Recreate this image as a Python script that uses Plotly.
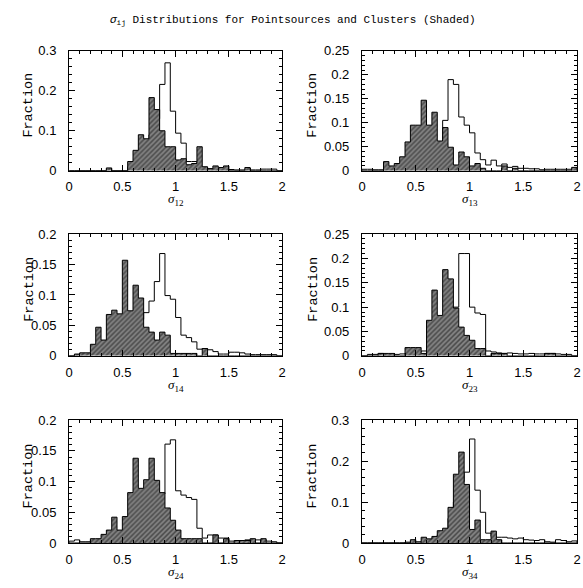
import plotly.graph_objects as go

W, H = 583, 588
edges = [round(i * 0.05, 2) for i in range(41)]

# ---- data: fraction per 0.05 bin (40 bins from 0 to 2) ----
# sigma_12
s12_pt = [0, 0, 0, 0, 0, 0, 0, 0.003, 0, 0, 0,
          0.01, 0.02, 0.03, 0.05, 0.09, 0.13, 0.216, 0.27, 0.149, 0.094,
          0.069, 0.023, 0.023, 0.01, 0.008, 0.005, 0.005, 0.004, 0.004, 0.003,
          0.002, 0.002, 0.003, 0.002, 0.002, 0.004, 0.004, 0.004, 0]
s12_cl = [0, 0, 0, 0, 0, 0, 0, 0.007, 0, 0, 0,
          0.023, 0.051, 0.09, 0.08, 0.183, 0.153, 0.1, 0.06, 0.06, 0.027,
          0.03, 0.015, 0.018, 0.06, 0.01, 0.005, 0.012, 0.008, 0.012, 0,
          0, 0, 0.008, 0, 0, 0, 0, 0, 0]
# sigma_13
s13_pt = [0.003, 0.003, 0.002, 0.002, 0.004, 0.005, 0.006, 0.01, 0.015, 0.02,
          0.025, 0.03, 0.04, 0.045, 0.06, 0.105, 0.19, 0.18, 0.112, 0.095,
          0.079, 0.037, 0.023, 0.012, 0.022, 0.01, 0.014, 0.007, 0.009, 0.005,
          0.005, 0.004, 0.004, 0.002, 0.003, 0.003, 0.003, 0.003, 0.003, 0.002]
s13_cl = [0, 0, 0, 0, 0.019, 0.01, 0.015, 0.029, 0.06, 0.095,
          0.095, 0.147, 0.095, 0.122, 0.062, 0.09, 0.049, 0.012, 0.039, 0.029,
          0.01, 0.015, 0.005, 0, 0, 0, 0.01, 0, 0.005, 0,
          0, 0, 0, 0, 0, 0, 0, 0, 0, 0.007]
# sigma_14
s14_pt = [0, 0.002, 0.002, 0.003, 0.005, 0.008, 0.01, 0.015, 0.02, 0.025,
          0.03, 0.04, 0.05, 0.06, 0.071, 0.09, 0.122, 0.168, 0.099, 0.093,
          0.063, 0.034, 0.03, 0.023, 0.011, 0.012, 0.01, 0.007, 0.003, 0.003,
          0.006, 0.006, 0.005, 0.003, 0.002, 0.002, 0.002, 0.002, 0.002, 0]
s14_cl = [0, 0.003, 0.005, 0.005, 0.019, 0.047, 0.026, 0.068, 0.075, 0.069,
          0.157, 0.074, 0.116, 0.095, 0.047, 0.039, 0.026, 0.039, 0.034, 0.004,
          0.004, 0.004, 0.004, 0.004, 0, 0.012, 0, 0, 0, 0,
          0, 0, 0, 0, 0, 0, 0, 0, 0, 0]
# sigma_23
s23_pt = [0, 0.003, 0.003, 0.005, 0.002, 0.002, 0.003, 0.004, 0.005, 0.006,
          0.008, 0.01, 0.015, 0.02, 0.03, 0.05, 0.07, 0.1, 0.21, 0.21,
          0.1, 0.088, 0.085, 0.01, 0.008, 0.006, 0.005, 0.006, 0.005, 0.004,
          0.004, 0.005, 0.004, 0.004, 0.005, 0.005, 0.004, 0.003, 0.003, 0]
s23_cl = [0, 0, 0, 0.005, 0.005, 0.005, 0, 0, 0.017, 0.017,
          0.017, 0.005, 0.073, 0.135, 0.083, 0.177, 0.158, 0.098, 0.059, 0.042,
          0.032, 0.015, 0.015, 0, 0.005, 0.005, 0.005, 0, 0, 0,
          0, 0, 0, 0, 0.005, 0.005, 0, 0, 0, 0]
# sigma_24
s24_pt = [0.003, 0.005, 0.002, 0.002, 0.004, 0.005, 0.006, 0.01, 0.012, 0.015,
          0.02, 0.03, 0.04, 0.05, 0.06, 0.07, 0.075, 0.08, 0.161, 0.168,
          0.085, 0.078, 0.074, 0.071, 0.024, 0.008, 0.013, 0.013, 0.008, 0.008,
          0.003, 0.003, 0.003, 0.005, 0.004, 0.005, 0.005, 0.003, 0.002, 0]
s24_cl = [0, 0, 0, 0, 0.007, 0.007, 0.014, 0.021, 0.042, 0.021,
          0.043, 0.082, 0.138, 0.089, 0.103, 0.138, 0.102, 0.082, 0.057, 0.037,
          0.021, 0.007, 0.007, 0.007, 0.007, 0, 0, 0.013, 0, 0.007,
          0, 0.004, 0.004, 0.004, 0.007, 0, 0.007, 0, 0, 0]
# sigma_34
s34_pt = [0, 0, 0, 0, 0, 0, 0, 0, 0.002, 0.003,
          0.003, 0.005, 0.006, 0.01, 0.02, 0.03, 0.06, 0.1, 0.15, 0.173,
          0.254, 0.129, 0.075, 0.024, 0.016, 0.014, 0.014, 0.012, 0.01, 0.012,
          0.008, 0.007, 0.006, 0.008, 0.003, 0.002, 0.008, 0.006, 0.003, 0.005]
s34_cl = [0, 0, 0, 0, 0, 0, 0, 0, 0, 0.008,
          0, 0.014, 0.01, 0.016, 0.03, 0.036, 0.087, 0.168, 0.222, 0.143,
          0.033, 0.056, 0.008, 0.008, 0.029, 0.008, 0, 0, 0, 0,
          0, 0, 0, 0, 0, 0, 0, 0, 0, 0]

panels = [
    ("12", s12_pt, s12_cl, 0.3, 0.1, 0.02),
    ("13", s13_pt, s13_cl, 0.25, 0.05, 0.01),
    ("14", s14_pt, s14_cl, 0.2, 0.05, 0.01),
    ("23", s23_pt, s23_cl, 0.25, 0.05, 0.01),
    ("24", s24_pt, s24_cl, 0.2, 0.05, 0.01),
    ("34", s34_pt, s34_cl, 0.3, 0.1, 0.02),
]

# pixel boxes of plot areas (left, right, top, bottom)
cols = [(66, 282), (363, 581)]
rows = [(45, 168), (233, 358), (424, 550)]
ylab_x = [25, 313]

fig = go.Figure()
annotations = []
mono = "Liberation Mono"
sans = "Liberation Sans"

def step(vals):
    xs = [edges[0]] + edges + [edges[-1]]
    ys = [0] + list(vals) + [vals[-1], 0]
    return xs, ys

for k, (lab, pt, cl, ymax, dt, mdt) in enumerate(panels):
    r, c = divmod(k, 2)
    l, rr = cols[c]
    t, b = rows[r]
    xa = "x" if k == 0 else f"x{k+1}"
    ya = "y" if k == 0 else f"y{k+1}"
    xs, ys = step(pt)
    fig.add_trace(go.Scatter(
        x=xs, y=ys, mode="lines", line=dict(shape="hv", color="black", width=1),
        xaxis=xa, yaxis=ya, showlegend=False, hoverinfo="skip"))
    xs, ys = step(cl)
    fig.add_trace(go.Scatter(
        x=xs, y=ys, mode="lines", line=dict(shape="hv", color="black", width=1),
        fill="tozeroy", fillcolor="#7a7a7a",
        fillpattern=dict(shape="/", fgcolor="#141414", bgcolor="#828282",
                         size=3.5, solidity=0.45),
        xaxis=xa, yaxis=ya, showlegend=False, hoverinfo="skip"))
    axcommon = dict(showline=True, linecolor="black", linewidth=1.2, mirror="ticks",
                    ticks="inside", ticklen=6, tickcolor="black", tickwidth=1,
                    showgrid=False, zeroline=False,
                    tickfont=dict(family=sans, size=13, color="black"))
    xname = "xaxis" if k == 0 else f"xaxis{k+1}"
    yname = "yaxis" if k == 0 else f"yaxis{k+1}"
    fig.layout[xname] = dict(domain=[l / W, rr / W], range=[0, 2], dtick=0.5,
                             anchor=ya, ticklabelstandoff=4,
                             minor=dict(dtick=0.1, ticks="inside", ticklen=3,
                                        tickcolor="black", showgrid=False),
                             **axcommon)
    fig.layout[yname] = dict(domain=[1 - b / H, 1 - t / H], range=[0, ymax], dtick=dt,
                             anchor=xa, ticklabelstandoff=9,
                             minor=dict(dtick=mdt, ticks="inside", ticklen=3,
                                        tickcolor="black", showgrid=False),
                             **axcommon)
    annotations.append(dict(
        text=f"<i>σ</i><sub>{lab}</sub>", x=(l + rr) / 2 / W, y=1 - (b + 30) / H,
        xref="paper", yref="paper", showarrow=False, xanchor="center", yanchor="middle",
        font=dict(family="Liberation Serif", size=13, color="black")))
    annotations.append(dict(
        text="Fraction", x=ylab_x[c] / W, y=1 - ((t + b) / 2 - 6) / H,
        xref="paper", yref="paper", showarrow=False, textangle=-90,
        xanchor="center", yanchor="middle",
        font=dict(family=mono, size=13.5, color="black")))

annotations.append(dict(
    text="<i>σ</i><sub>ij</sub> Distributions for Pointsources and Clusters (Shaded)",
    x=293 / W, y=1 - 14 / H, xref="paper", yref="paper", showarrow=False,
    xanchor="center", yanchor="middle",
    font=dict(family=mono, size=11, color="black")))

fig.update_layout(width=W, height=H, margin=dict(l=0, r=0, t=0, b=0),
                  paper_bgcolor="white", plot_bgcolor="white",
                  annotations=annotations, showlegend=False)
fig.write_html("out.html", config={"displayModeBar": False},
               post_script="document.body.style.margin='0';document.body.style.overflow='hidden';")
